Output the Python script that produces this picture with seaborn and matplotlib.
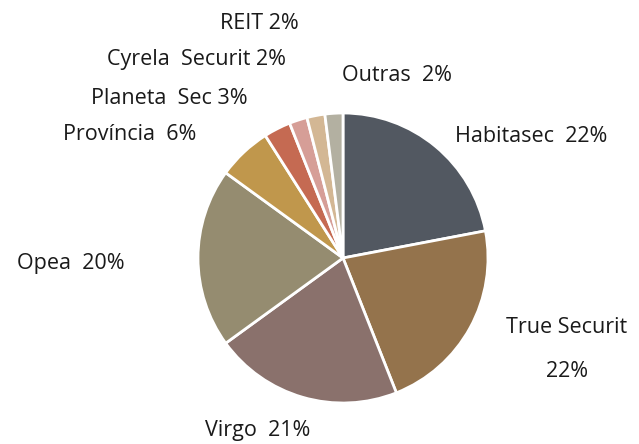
import matplotlib
matplotlib.use("Agg")
import matplotlib.pyplot as plt
import seaborn as sns

# dados do gráfico
labels = ["Habitasec", "True Securit", "Virgo", "Opea", "Província",
          "Planeta Sec", "Cyrela Securit", "REIT", "Outras"]
shares = [22, 22, 21, 20, 6, 3, 2, 2, 2]
colors = ["#525861", "#94734C", "#8A716C", "#958C70", "#C0974C",
          "#C56A52", "#D69E97", "#D3B794", "#B3B0A1"]
label_text = ["Habitasec  22%", "True Securit\n22%", "Virgo  21%", "Opea  20%",
              "Província  6%", "Planeta  Sec 3%", "Cyrela  Securit 2%",
              "REIT 2%", "Outras  2%"]
# posição dos rótulos (unidades do raio)
label_xy = [(1.30, 0.84), (1.545, -0.63), (-0.59, -1.19), (-1.88, -0.04),
            (-1.47, 0.85), (-1.20, 1.10), (-1.01, 1.37), (-0.58, 1.62),
            (0.37, 1.26)]

sns.set_style("white")
plt.rcParams['font.family'] = ['Open Sans', 'DejaVu Sans']

fig = plt.figure(figsize=(6.39, 4.44), dpi=100)
ax = fig.add_axes([0, 0, 1, 1])
ax.pie(shares, colors=colors, startangle=90, counterclock=False,
       radius=1, wedgeprops=dict(edgecolor="white", linewidth=2))

for txt, (x, y) in zip(label_text, label_xy):
    ax.text(x, y, txt, ha="center", va="center", fontsize=15.5,
            color="#1a1a1a", linespacing=2.4)

# escala: raio = 145 px
ax.set_xlim(-343 / 145, (639 - 343) / 145)
ax.set_ylim(-186 / 145, 258 / 145)
ax.set_aspect("equal")
ax.axis("off")

fig.savefig("out.png", dpi=100)
